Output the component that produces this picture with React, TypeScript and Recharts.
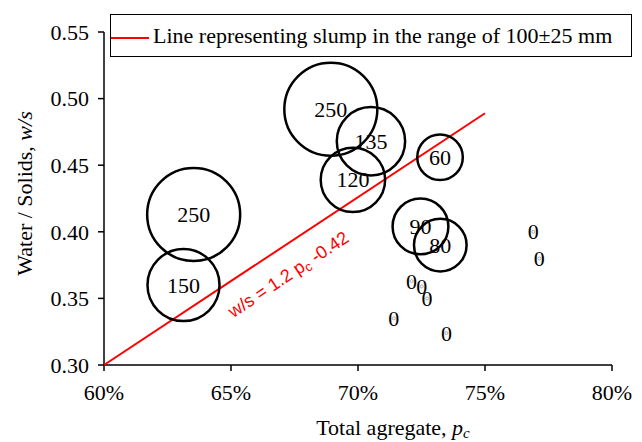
import React from 'react';
import { ScatterChart, Scatter, XAxis, YAxis, ZAxis, Legend, ReferenceDot } from 'recharts';

// bubbles: total aggregate (%), water/solids, slump (mm)
const bubbleX = [68.93, 70.51, 69.8, 73.23, 63.53, 63.13, 72.46, 73.24, 76.9, 77.14, 72.11, 72.51, 72.72, 71.41, 73.48];
const bubbleY = [0.492, 0.468, 0.439, 0.456, 0.413, 0.36, 0.404, 0.39, 0.4, 0.38, 0.363, 0.359, 0.35, 0.335, 0.324];
const bubbleSlump = [250, 135, 120, 60, 250, 150, 90, 80, 0, 0, 0, 0, 0, 0, 0];

// red reference line
const lineX = [60, 75];
const lineY = [0.3, 0.489];
const lineName = 'Line representing slump in the range of 100\u00B125 mm';

const xTicks = [60, 65, 70, 75, 80];
const yTicks = [0.3, 0.35, 0.4, 0.45, 0.5, 0.55];

const serif = '"Liberation Serif", "Times New Roman", serif';

const bubbles = bubbleX.map((x, i) => ({ x, y: bubbleY[i], slump: bubbleSlump[i] }));
const lineData = lineX.map((x, i) => ({ x, y: lineY[i] }));

const Bubble = (props: any) => {
    const { cx, cy, width, payload } = props;
    const r = (width || 0) / 2;
    return (
        <g>
            {r > 0 ? (
                <circle cx={cx} cy={cy} r={r} fill="none" stroke="#000" strokeWidth={2.5} />
            ) : (
                <circle cx={cx} cy={cy} r={1.5} fill="none" stroke="#999" strokeWidth={0.8} />
            )}
            <text x={cx} y={cy} textAnchor="middle" dominantBaseline="central" fontFamily={serif} fontSize={22} fill="#000">
                {payload.slump}
            </text>
        </g>
    );
};

const LegendBox = (props: any) => {
    const item = (props.payload || []).find((p: any) => p.value === lineName) || { value: lineName, color: '#FF0000' };
    return (
        <div style={{
            boxSizing: 'border-box',
            width: 522,
            height: 43,
            border: '1.5px solid #000',
            background: '#fff',
            display: 'flex',
            alignItems: 'center',
            fontFamily: serif,
            fontSize: 22,
            color: '#000'
        }}>
            <svg width={38} height={4} style={{ marginTop: 4 }}>
                <line x1={0} y1={2} x2={38} y2={2} stroke="#FF0000" strokeWidth={2} />
            </svg>
            <span style={{ marginLeft: 4, whiteSpace: 'nowrap' }}>{item.value}</span>
        </div>
    );
};

const Annotation = (p: any) => (
    <text
        x={p.cx}
        y={p.cy}
        transform={`rotate(-33.6 ${p.cx} ${p.cy})`}
        textAnchor="middle"
        dominantBaseline="central"
        fontFamily='"Liberation Sans", Arial, sans-serif'
        fontSize={18}
        fill="#FF0000"
    >
        w/s = 1.2 p<tspan fontSize={13} dy={4}>c</tspan><tspan dy={-4}> -0.42</tspan>
    </text>
);

export default function App() {
    return (
        <div style={{ position: 'absolute', left: 0, top: 0, background: '#fff' }}>
            <ScatterChart width={642} height={442} margin={{ top: 32, right: 30, bottom: 7, left: 34 }}>
                <XAxis
                    type="number"
                    dataKey="x"
                    domain={[60, 80]}
                    ticks={xTicks}
                    tickFormatter={(v: number) => `${v}%`}
                    height={70}
                    tick={{ fill: '#000', fontSize: 22, fontFamily: serif }}
                    tickMargin={13}
                    axisLine={{ stroke: '#000', strokeWidth: 1.5 }}
                    tickLine={{ stroke: '#000', strokeWidth: 1.5 }}
                    label={{
                        content: (lp: any) => {
                            const vb = lp.viewBox;
                            return (
                                <text x={vb.x + vb.width / 2 + 35} y={vb.y + 70} textAnchor="middle" fontFamily={serif} fontSize={22} fill="#000">
                                    Total agregate, <tspan fontStyle="italic">p</tspan><tspan fontStyle="italic" fontSize={15} dy={3}>c</tspan>
                                </text>
                            );
                        }
                    }}
                />
                <YAxis
                    type="number"
                    dataKey="y"
                    domain={[0.3, 0.55]}
                    ticks={yTicks}
                    tickFormatter={(v: number) => v.toFixed(2)}
                    width={70}
                    tick={{ fill: '#000', fontSize: 22, fontFamily: serif }}
                    tickMargin={9}
                    axisLine={{ stroke: '#000', strokeWidth: 1.5 }}
                    tickLine={{ stroke: '#000', strokeWidth: 1.5 }}
                    label={{
                        content: (lp: any) => {
                            const vb = lp.viewBox;
                            const cx = vb.x - 10;
                            const cy = vb.y + vb.height / 2 - 5;
                            return (
                                <text x={cx} y={cy} transform={`rotate(-90 ${cx} ${cy})`} textAnchor="middle" dominantBaseline="central" fontFamily={serif} fontSize={22} fill="#000">
                                    Water / Solids, <tspan fontStyle="italic">w/s</tspan>
                                </text>
                            );
                        }
                    }}
                />
                <ZAxis type="number" dataKey="slump" domain={[0, 250]} range={[0, Math.PI * 46.5 * 46.5]} />
                <Legend
                    layout="horizontal"
                    verticalAlign="middle"
                    align="center"
                    content={<LegendBox />}
                    wrapperStyle={{ left: 110, top: 14, width: 522, height: 43 }}
                />
                <Scatter
                    name={lineName}
                    data={lineData}
                    fill="#FF0000"
                    line={{ stroke: '#FF0000', strokeWidth: 2 }}
                    shape={() => <g />}
                    legendType="line"
                    isAnimationActive={false}
                />
                <Scatter
                    name="slump"
                    data={bubbles}
                    shape={<Bubble />}
                    legendType="none"
                    isAnimationActive={false}
                />
                <ReferenceDot x={67.26} y={0.368} r={0} shape={Annotation} />
            </ScatterChart>
        </div>
    );
}
